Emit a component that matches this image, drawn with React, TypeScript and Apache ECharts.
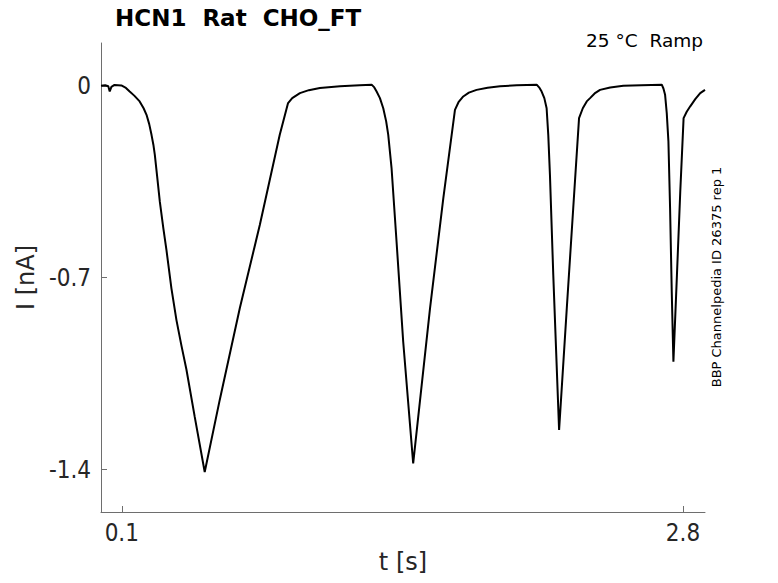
import React, { useEffect, useRef } from "react";
import * as echarts from "echarts";

// time (s)
const T: number[] = [
  0.0, 0.02, 0.035, 0.042, 0.05, 0.065, 0.098, 0.12, 0.138, 0.16, 0.186, 0.205, 0.219, 0.232, 0.243, 0.252,
  0.259, 0.27, 0.283, 0.3, 0.315, 0.339, 0.363, 0.387, 0.411, 0.451, 0.499, 0.571, 0.668, 0.764, 0.86, 0.9,
  0.92, 0.957, 1.0, 1.053, 1.15, 1.245, 1.302, 1.315, 1.326, 1.342, 1.358, 1.372, 1.382, 1.398, 1.422, 1.454,
  1.502, 1.583, 1.647, 1.703, 1.72, 1.743, 1.77, 1.807, 1.86, 1.92, 2.0, 2.096, 2.11, 2.12, 2.133, 2.144,
  2.152, 2.16, 2.176, 2.204, 2.241, 2.272, 2.3, 2.318, 2.337, 2.353, 2.375, 2.401, 2.45, 2.513, 2.6, 2.698,
  2.706, 2.714, 2.722, 2.73, 2.738, 2.746, 2.754, 2.771, 2.787, 2.803, 2.818, 2.835, 2.86, 2.883, 2.906,
];
// current (nA)
const I: number[] = [
  0.0, 0.002, -0.002, -0.021, -0.004, 0.003, 0.001, -0.008, -0.021, -0.036, -0.057, -0.082, -0.106, -0.14,
  -0.179, -0.215, -0.252, -0.33, -0.423, -0.52, -0.6, -0.74, -0.855, -0.948, -1.035, -1.208, -1.409, -1.147,
  -0.811, -0.508, -0.179, -0.063, -0.045, -0.027, -0.016, -0.008, -0.002, 0.002, 0.004, -0.006, -0.021,
  -0.045, -0.082, -0.13, -0.179, -0.301, -0.569, -0.934, -1.378, -0.812, -0.41, -0.088, -0.06, -0.039,
  -0.025, -0.015, -0.007, -0.002, 0.002, 0.004, -0.008, -0.021, -0.045, -0.082, -0.18, -0.325, -0.69,
  -1.256, -0.812, -0.447, -0.118, -0.082, -0.057, -0.045, -0.028, -0.015, -0.006, 0.0, 0.002, 0.004, -0.01,
  -0.033, -0.1, -0.203, -0.447, -0.751, -1.007, -0.69, -0.386, -0.118, -0.095, -0.075, -0.048, -0.027,
  -0.015,
];

const X_TICKS: number[] = [0.1, 2.8];
const Y_TICKS: number[] = [0, -0.7, -1.4];

const TITLE = "HCN1  Rat  CHO_FT";
const SUBTITLE = "25 °C  Ramp";
const SIDE_NOTE = "BBP Channelpedia ID 26375 rep 1";

export default function App() {
  const ref = useRef<HTMLDivElement>(null);
  useEffect(() => {
    if (!ref.current) return;
    const chart = echarts.init(ref.current, undefined, { renderer: "svg" });
    const tickFont = "'DejaVu Sans Condensed', 'DejaVu Sans', sans-serif";
    const axisColor = "#6e6e6e";
    const labelColor = "#262626";
    chart.setOption({
      animation: false,
      backgroundColor: "#ffffff",
      grid: {
        left: 101,
        right: 73,
        top: 43,
        bottom: 71,
        containLabel: false,
        outerBoundsMode: "none",
      },
      xAxis: {
        type: "value",
        min: 0,
        max: 2.906,
        name: "t [s]",
        nameLocation: "middle",
        nameGap: 36,
        nameTextStyle: { fontSize: 24, color: labelColor, fontFamily: "'DejaVu Sans', sans-serif" },
        axisLine: { show: true, onZero: false, lineStyle: { color: axisColor, width: 1 } },
        axisTick: { show: true, inside: true, length: 6, customValues: X_TICKS, lineStyle: { color: axisColor } },
        axisLabel: {
          customValues: X_TICKS,
          formatter: (v: number) => String(v),
          fontSize: 24,
          margin: 9,
          color: labelColor,
          fontFamily: tickFont,
        },
        splitLine: { show: false },
      },
      yAxis: {
        type: "value",
        min: -1.555,
        max: 0.156,
        name: "I [nA]",
        nameLocation: "middle",
        nameRotate: 90,
        nameGap: 62,
        nameTextStyle: { fontSize: 24, color: labelColor, fontFamily: "'DejaVu Sans', sans-serif" },
        axisLine: { show: true, onZero: false, lineStyle: { color: axisColor, width: 1 } },
        axisTick: { show: true, inside: true, length: 6, customValues: Y_TICKS, lineStyle: { color: axisColor } },
        axisLabel: {
          customValues: Y_TICKS,
          formatter: (v: number) => String(v),
          fontSize: 24,
          margin: 10,
          color: labelColor,
          fontFamily: tickFont,
        },
        splitLine: { show: false },
      },
      graphic: [
        {
          type: "text",
          x: 115,
          y: 18,
          style: {
            text: TITLE,
            fontSize: 23,
            fontWeight: "bold",
            fontFamily: "'DejaVu Sans', sans-serif",
            fill: "#000000",
            textAlign: "left",
            textVerticalAlign: "middle",
          },
        },
        {
          type: "text",
          x: 703,
          y: 40,
          style: {
            text: SUBTITLE,
            fontSize: 18.5,
            fontFamily: "'DejaVu Sans', sans-serif",
            fill: "#000000",
            textAlign: "right",
            textVerticalAlign: "middle",
          },
        },
        {
          type: "text",
          x: 716,
          y: 277,
          rotation: Math.PI / 2,
          style: {
            text: SIDE_NOTE,
            fontSize: 13,
            fontFamily: "'DejaVu Sans', sans-serif",
            fill: "#000000",
            textAlign: "center",
            textVerticalAlign: "middle",
          },
        },
      ],
      series: [
        {
          type: "line",
          data: T.map((t, i) => [t, I[i]]),
          showSymbol: false,
          symbol: "none",
          smooth: false,
          lineStyle: { color: "#000000", width: 2 },
          clip: true,
        },
      ],
    });
    return () => chart.dispose();
  }, []);
  return <div ref={ref} style={{ width: 778, height: 583, position: "absolute", left: 0, top: 0 }} />;
}
